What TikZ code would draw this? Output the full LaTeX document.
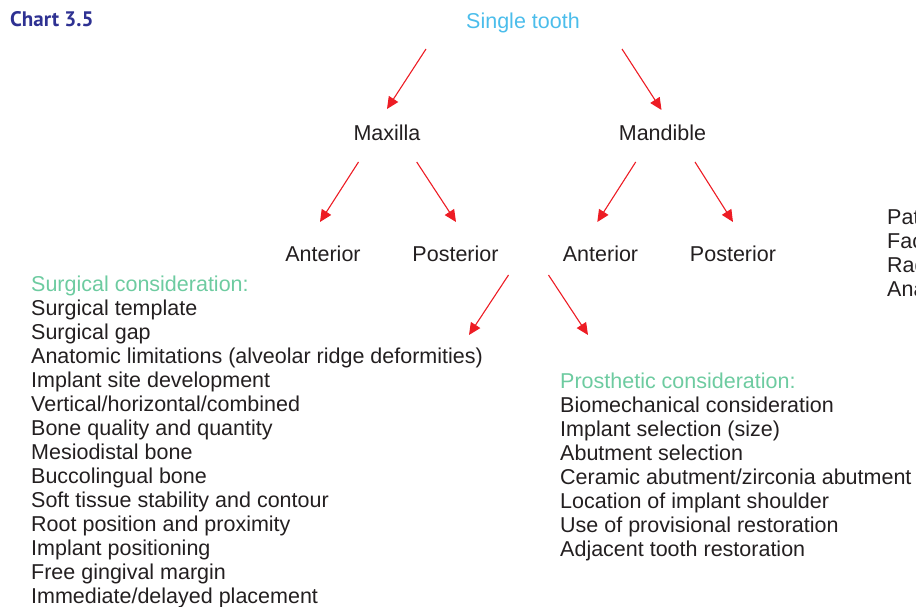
\documentclass[tikz,border=0pt]{standalone}
\usepackage{fontspec}
\setmainfont{Liberation Sans}
\newfontfamily\titlefont{PT Sans}
\usepackage{xcolor}
\usepackage{tikz}
\usetikzlibrary{arrows.meta}

\definecolor{titleblue}{HTML}{2E3192}
\definecolor{toothblue}{HTML}{4BBDEB}
\definecolor{headgreen}{HTML}{6DCBA0}
\definecolor{arrowred}{HTML}{ED1C24}
\definecolor{textgray}{HTML}{231F20}

\begin{document}
\begin{tikzpicture}[x=1pt, y=-1pt, node distance=112pt, >={Triangle[length=12pt, width=11pt]},
    lbl/.style={inner sep=0, text height=15.5pt, text depth=4.5pt, text=textgray,
        font=\fontsize{21.5}{24}\selectfont},
    lst/.style={inner sep=0, anchor=base west, align=left, text=textgray,
        font=\fontsize{21.5}{24}\selectfont},
    arr/.style={->, draw=arrowred, line width=1.1pt}]

        \useasboundingbox (0,0) rectangle (916,607);

        \node (title) [anchor=base west, inner sep=0, text=titleblue,
            font=\titlefont\bfseries\fontsize{21}{24}\selectfont] at (10,27) {Chart 3.5};

        \node (stooth) [lbl, text=toothblue] at (523,23.5) {Single tooth};
        \node (maxilla) [lbl, below of=stooth, xshift=-136pt] {Maxilla};
        \node (mandible) [lbl, below of=stooth, xshift=139.5pt] {Mandible};

        \node (anterA) [lbl, below of=maxilla, xshift=-64pt, yshift=-8pt] {Anterior};
        \node (postA) [lbl, below of=maxilla, xshift=68.5pt, yshift=-8pt] {Posterior};
        \node (anterB) [lbl, below of=mandible, xshift=-62pt, yshift=-8pt] {Anterior};
        \node (postB) [lbl, below of=mandible, xshift=70.5pt, yshift=-8pt] {Posterior};

        % base = baseline of the last line
        \node (surg) [lst] at (31,603) {\textcolor{headgreen}{Surgical consideration:}\\
            Surgical template\\
            Surgical gap\\
            Anatomic limitations (alveolar ridge deformities)\\
            Implant site development\\
            Vertical/horizontal/combined\\
            Bone quality and quantity\\
            Mesiodistal bone\\
            Buccolingual bone\\
            Soft tissue stability and contour\\
            Root position and proximity\\
            Implant positioning\\
            Free gingival margin\\
            Immediate/delayed placement};

        \node (prost) [lst] at (560,556) {\textcolor{headgreen}{Prosthetic consideration:}\\
            Biomechanical consideration\\
            Implant selection (size)\\
            Abutment selection\\
            Ceramic abutment/zirconia abutment\\
            Location of implant shoulder\\
            Use of provisional restoration\\
            Adjacent tooth restoration};

        % cut off at the right edge
        \node (other) [lst] at (887,296) {Pat\\ Fac\\ Rad\\ Ana};

        \coordinate (surgtip) at (469,335);
        \coordinate (prostip) at (588,335);

        \draw [arr] ([shift={(-97,20)}]stooth.base) -- ([shift={(0,-32)}]maxilla.base);
        \draw [arr] ([shift={(99,20)}]stooth.base) -- ([shift={(-1,-31)}]mandible.base);

        \draw [arr] ([shift={(-28.5,21)}]maxilla.base) -- ([shift={(-3,-39)}]anterA.base);
        \draw [arr] ([shift={(29.7,21)}]maxilla.base) -- ([shift={(0.5,-39)}]postA.base);
        \draw [arr] ([shift={(-26.8,21)}]mandible.base) -- ([shift={(-3.2,-39)}]anterB.base);
        \draw [arr] ([shift={(32.5,21)}]mandible.base) -- ([shift={(0,-39)}]postB.base);

        \draw [arr] ([shift={(53,14)}]postA.base) -- (surgtip);
        \draw [arr] ([shift={(93,14)}]postA.base) -- (prostip);
    \end{tikzpicture}
\end{document}
